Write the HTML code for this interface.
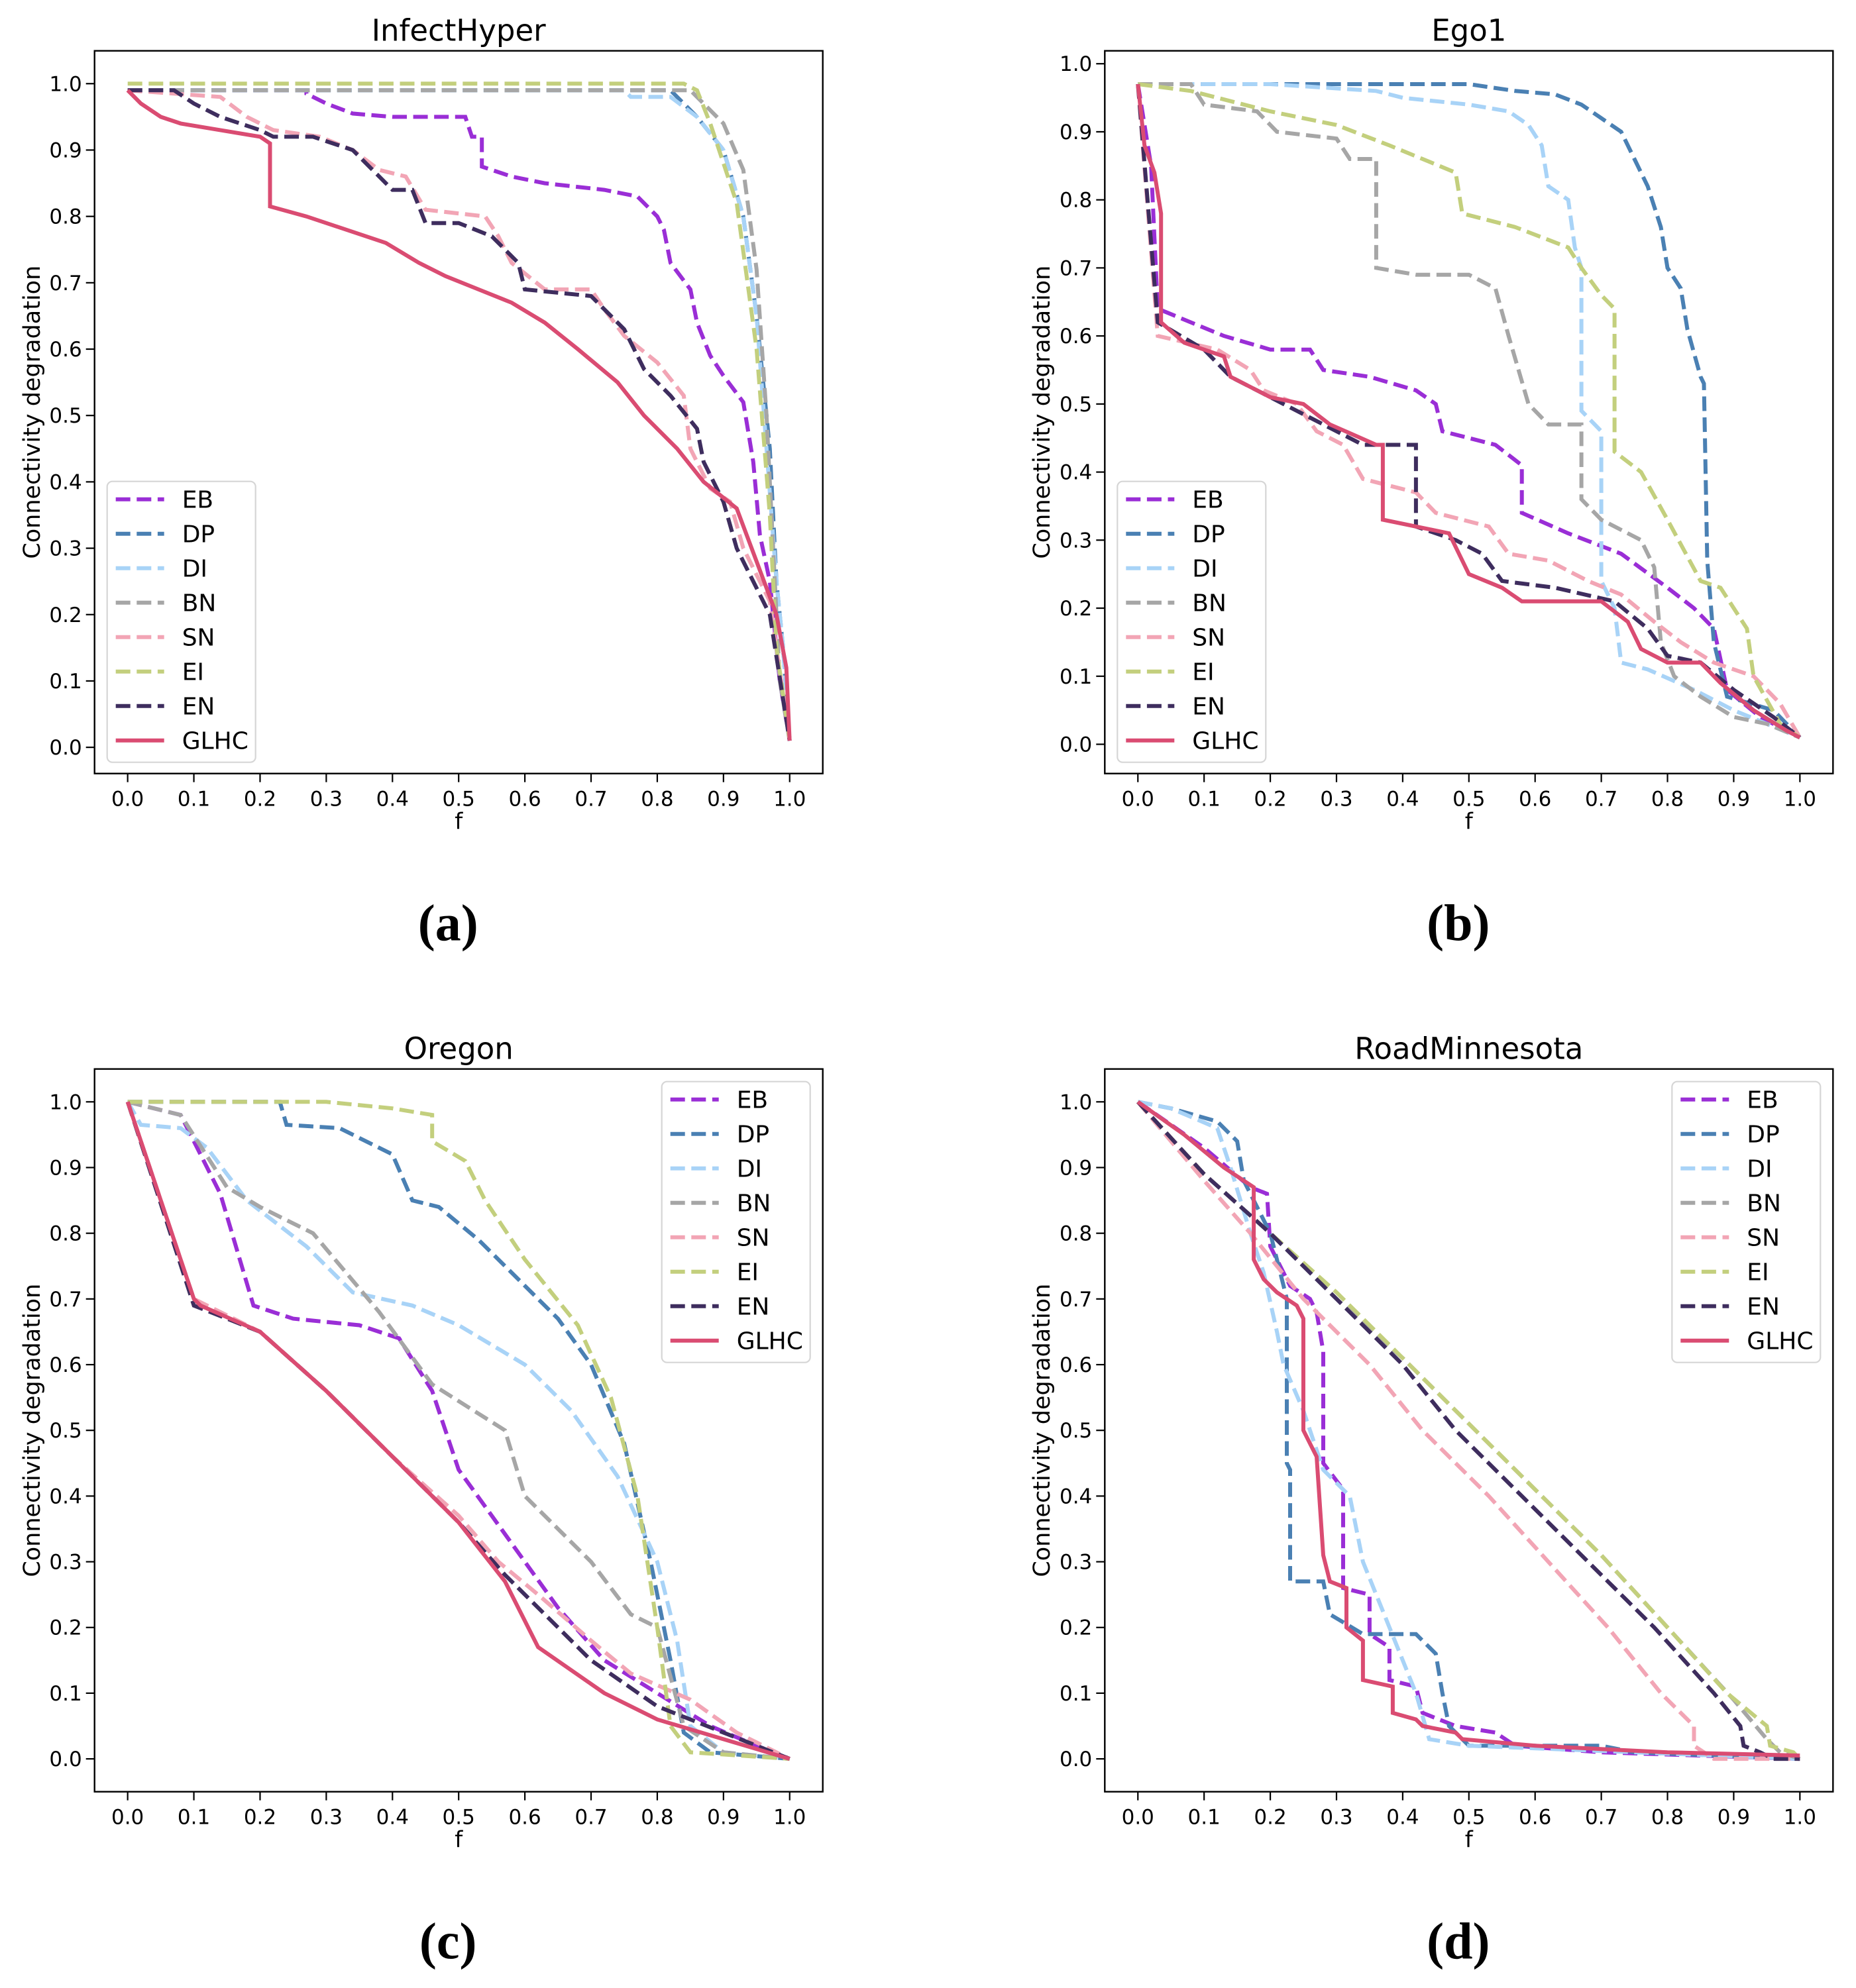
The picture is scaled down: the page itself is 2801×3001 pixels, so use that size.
<!DOCTYPE html>
<html><head><meta charset="utf-8">
<style>
html,body{margin:0;padding:0;background:#fff;}
svg{display:block;}
text{font-family:"DejaVu Sans","Liberation Sans",sans-serif;}
</style></head>
<body>
<svg id="fig" width="2801" height="3001" viewBox="0 0 2801 3001" xmlns="http://www.w3.org/2000/svg"></svg>
<script>
// ---------- data (f, connectivity degradation) ----------
const seriesNames = ["EB","DP","DI","BN","SN","EI","EN","GLHC"];
const xTicks = [0,0.1,0.2,0.3,0.4,0.5,0.6,0.7,0.8,0.9,1.0];
const yTicks = [0,0.1,0.2,0.3,0.4,0.5,0.6,0.7,0.8,0.9,1.0];
const xTickLabels = ["0.0","0.1","0.2","0.3","0.4","0.5","0.6","0.7","0.8","0.9","1.0"];
const yTickLabels = ["0.0","0.1","0.2","0.3","0.4","0.5","0.6","0.7","0.8","0.9","1.0"];

// Panel (a) InfectHyper
const aEB = [[0,0.99],[0.27,0.99],[0.27,0.985],[0.3,0.97],[0.34,0.955],[0.4,0.95],[0.51,0.95],[0.52,0.92],[0.535,0.92],[0.535,0.875],[0.58,0.86],[0.63,0.85],[0.72,0.84],[0.77,0.83],[0.8,0.8],[0.81,0.78],[0.82,0.73],[0.85,0.69],[0.86,0.64],[0.88,0.59],[0.9,0.56],[0.93,0.52],[0.945,0.43],[0.955,0.32],[0.97,0.25],[0.985,0.1],[1.0,0.01]];
const aDP = [[0,0.99],[0.82,0.99],[0.86,0.95],[0.9,0.9],[0.93,0.8],[0.95,0.65],[0.97,0.45],[0.98,0.25],[0.99,0.15],[1.0,0.01]];
const aDI = [[0,0.99],[0.75,0.99],[0.76,0.98],[0.82,0.98],[0.86,0.95],[0.9,0.9],[0.93,0.8],[0.95,0.65],[0.965,0.45],[0.98,0.25],[0.99,0.15],[1.0,0.01]];
const aBN = [[0,0.99],[0.85,0.99],[0.9,0.94],[0.93,0.87],[0.95,0.72],[0.965,0.5],[0.975,0.3],[0.985,0.1],[1.0,0.01]];
const aSN = [[0,0.99],[0.14,0.98],[0.18,0.95],[0.22,0.93],[0.29,0.92],[0.34,0.9],[0.38,0.87],[0.42,0.86],[0.45,0.81],[0.54,0.8],[0.56,0.77],[0.58,0.73],[0.63,0.69],[0.7,0.69],[0.72,0.66],[0.75,0.62],[0.8,0.58],[0.84,0.53],[0.85,0.45],[0.88,0.39],[0.91,0.37],[0.93,0.3],[0.97,0.22],[1.0,0.01]];
const aEI = [[0,1.0],[0.84,1.0],[0.86,0.99],[0.88,0.94],[0.92,0.82],[0.95,0.6],[0.97,0.35],[0.98,0.15],[1.0,0.01]];
const aEN = [[0,0.99],[0.07,0.99],[0.1,0.97],[0.14,0.95],[0.2,0.93],[0.22,0.92],[0.28,0.92],[0.34,0.9],[0.38,0.86],[0.4,0.84],[0.43,0.84],[0.45,0.79],[0.5,0.79],[0.55,0.77],[0.59,0.73],[0.6,0.69],[0.7,0.68],[0.75,0.63],[0.78,0.57],[0.82,0.53],[0.86,0.48],[0.87,0.43],[0.9,0.37],[0.92,0.3],[0.95,0.24],[0.97,0.2],[1.0,0.01]];
const aGLHC = [[0,0.99],[0.02,0.97],[0.05,0.95],[0.08,0.94],[0.14,0.93],[0.2,0.92],[0.215,0.91],[0.215,0.815],[0.27,0.8],[0.33,0.78],[0.39,0.76],[0.44,0.73],[0.48,0.71],[0.53,0.69],[0.58,0.67],[0.63,0.64],[0.68,0.6],[0.74,0.55],[0.78,0.5],[0.83,0.45],[0.87,0.4],[0.92,0.36],[0.95,0.28],[0.98,0.2],[0.995,0.12],[1.0,0.01]];

// Panel (b) Ego1
const bEB = [[0,0.97],[0.02,0.85],[0.03,0.64],[0.08,0.62],[0.13,0.6],[0.2,0.58],[0.26,0.58],[0.28,0.55],[0.35,0.54],[0.42,0.52],[0.45,0.5],[0.46,0.46],[0.54,0.44],[0.58,0.41],[0.58,0.34],[0.65,0.31],[0.73,0.28],[0.8,0.23],[0.84,0.2],[0.87,0.17],[0.89,0.08],[0.94,0.04],[1.0,0.01]];
const bDP = [[0,0.97],[0.5,0.97],[0.57,0.96],[0.63,0.955],[0.67,0.94],[0.7,0.92],[0.73,0.9],[0.75,0.86],[0.77,0.82],[0.79,0.76],[0.8,0.7],[0.82,0.67],[0.83,0.61],[0.85,0.54],[0.855,0.53],[0.86,0.27],[0.87,0.15],[0.89,0.07],[0.96,0.05],[1.0,0.01]];
const bDI = [[0,0.97],[0.2,0.97],[0.36,0.96],[0.4,0.95],[0.5,0.94],[0.56,0.93],[0.59,0.91],[0.61,0.88],[0.62,0.82],[0.65,0.8],[0.66,0.73],[0.67,0.7],[0.67,0.49],[0.7,0.46],[0.7,0.24],[0.72,0.2],[0.73,0.12],[0.77,0.11],[0.84,0.08],[0.9,0.05],[0.95,0.03],[1.0,0.01]];
const bBN = [[0,0.97],[0.08,0.97],[0.1,0.94],[0.18,0.93],[0.21,0.9],[0.3,0.89],[0.32,0.86],[0.36,0.86],[0.36,0.7],[0.42,0.69],[0.5,0.69],[0.54,0.67],[0.56,0.6],[0.59,0.5],[0.62,0.47],[0.67,0.47],[0.67,0.36],[0.7,0.33],[0.76,0.3],[0.78,0.26],[0.79,0.15],[0.81,0.1],[0.85,0.07],[0.9,0.04],[0.95,0.03],[1.0,0.01]];
const bSN = [[0,0.97],[0.03,0.6],[0.12,0.58],[0.17,0.55],[0.19,0.52],[0.24,0.5],[0.27,0.46],[0.31,0.44],[0.34,0.39],[0.42,0.37],[0.45,0.34],[0.53,0.32],[0.56,0.28],[0.62,0.27],[0.68,0.24],[0.73,0.22],[0.78,0.18],[0.82,0.15],[0.87,0.12],[0.93,0.1],[0.97,0.06],[1.0,0.01]];
const bEI = [[0,0.97],[0.08,0.96],[0.2,0.93],[0.3,0.91],[0.38,0.88],[0.43,0.86],[0.48,0.84],[0.49,0.78],[0.57,0.76],[0.65,0.73],[0.67,0.7],[0.7,0.66],[0.72,0.64],[0.72,0.43],[0.76,0.4],[0.8,0.33],[0.85,0.24],[0.88,0.23],[0.92,0.17],[0.93,0.1],[0.97,0.03],[1.0,0.01]];
const bEN = [[0,0.97],[0.03,0.62],[0.1,0.58],[0.14,0.54],[0.22,0.5],[0.28,0.47],[0.34,0.44],[0.42,0.44],[0.42,0.32],[0.48,0.3],[0.52,0.28],[0.55,0.24],[0.63,0.23],[0.72,0.21],[0.77,0.17],[0.8,0.13],[0.85,0.12],[0.9,0.08],[0.96,0.04],[1.0,0.01]];
const bGLHC = [[0,0.97],[0.01,0.88],[0.025,0.84],[0.035,0.78],[0.035,0.62],[0.07,0.59],[0.13,0.57],[0.14,0.54],[0.2,0.51],[0.25,0.5],[0.29,0.47],[0.36,0.44],[0.37,0.44],[0.37,0.33],[0.47,0.31],[0.5,0.25],[0.55,0.23],[0.58,0.21],[0.7,0.21],[0.74,0.18],[0.76,0.14],[0.8,0.12],[0.85,0.12],[0.88,0.09],[0.93,0.05],[0.98,0.02],[1.0,0.01]];

// Panel (c) Oregon
const cEB = [[0,1.0],[0.08,0.98],[0.14,0.86],[0.19,0.69],[0.25,0.67],[0.35,0.66],[0.41,0.64],[0.46,0.56],[0.5,0.44],[0.55,0.37],[0.6,0.3],[0.65,0.23],[0.72,0.15],[0.8,0.1],[0.88,0.05],[0.95,0.02],[1.0,0.0]];
const cDP = [[0,1.0],[0.23,1.0],[0.24,0.965],[0.32,0.96],[0.4,0.92],[0.43,0.85],[0.47,0.84],[0.53,0.79],[0.6,0.72],[0.65,0.67],[0.7,0.6],[0.75,0.48],[0.79,0.3],[0.82,0.15],[0.84,0.04],[0.88,0.01],[1.0,0.0]];
const cDI = [[0,1.0],[0.02,0.965],[0.08,0.96],[0.12,0.93],[0.18,0.85],[0.27,0.78],[0.34,0.71],[0.43,0.69],[0.5,0.66],[0.6,0.6],[0.67,0.53],[0.74,0.43],[0.8,0.3],[0.83,0.18],[0.85,0.05],[0.9,0.01],[1.0,0.0]];
const cBN = [[0,1.0],[0.08,0.98],[0.15,0.87],[0.2,0.84],[0.28,0.8],[0.38,0.68],[0.46,0.57],[0.57,0.5],[0.6,0.4],[0.65,0.35],[0.7,0.3],[0.76,0.22],[0.8,0.2],[0.84,0.05],[0.9,0.01],[1.0,0.0]];
const cSN = [[0,1.0],[0.1,0.7],[0.2,0.65],[0.3,0.56],[0.4,0.46],[0.5,0.37],[0.56,0.3],[0.62,0.25],[0.7,0.18],[0.76,0.13],[0.85,0.09],[0.92,0.04],[1.0,0.0]];
const cEI = [[0,1.0],[0.3,1.0],[0.4,0.99],[0.46,0.98],[0.46,0.94],[0.51,0.91],[0.54,0.85],[0.6,0.76],[0.68,0.66],[0.73,0.55],[0.77,0.4],[0.8,0.2],[0.82,0.05],[0.85,0.01],[1.0,0.0]];
const cEN = [[0,1.0],[0.1,0.69],[0.2,0.65],[0.3,0.56],[0.4,0.46],[0.5,0.36],[0.57,0.28],[0.63,0.22],[0.7,0.15],[0.8,0.08],[0.9,0.04],[1.0,0.0]];
const cGLHC = [[0,1.0],[0.1,0.7],[0.11,0.69],[0.2,0.65],[0.3,0.56],[0.4,0.46],[0.5,0.36],[0.57,0.27],[0.62,0.17],[0.72,0.1],[0.8,0.06],[0.9,0.03],[1.0,0.0]];

// Panel (d) RoadMinnesota
const dEB = [[0,1.0],[0.1,0.93],[0.17,0.87],[0.195,0.86],[0.2,0.78],[0.23,0.72],[0.26,0.7],[0.27,0.68],[0.28,0.62],[0.28,0.45],[0.31,0.41],[0.31,0.26],[0.35,0.25],[0.35,0.19],[0.38,0.17],[0.38,0.12],[0.42,0.11],[0.43,0.07],[0.48,0.05],[0.54,0.04],[0.57,0.02],[0.7,0.01],[1.0,0.0]];
const dDP = [[0,1.0],[0.05,0.99],[0.12,0.97],[0.15,0.94],[0.16,0.88],[0.2,0.8],[0.22,0.72],[0.225,0.7],[0.225,0.45],[0.23,0.44],[0.23,0.27],[0.28,0.27],[0.29,0.22],[0.34,0.19],[0.42,0.19],[0.45,0.16],[0.46,0.1],[0.47,0.05],[0.5,0.02],[0.7,0.02],[0.75,0.01],[1.0,0.0]];
const dDI = [[0,1.0],[0.05,0.99],[0.12,0.96],[0.14,0.9],[0.17,0.8],[0.19,0.74],[0.21,0.65],[0.22,0.6],[0.25,0.53],[0.28,0.44],[0.32,0.4],[0.34,0.3],[0.38,0.2],[0.4,0.15],[0.42,0.1],[0.44,0.03],[0.5,0.02],[1.0,0.0]];
const dBN = [[0,1.0],[0.1,0.89],[0.2,0.8],[0.3,0.7],[0.4,0.61],[0.5,0.51],[0.6,0.41],[0.7,0.31],[0.8,0.2],[0.9,0.09],[0.95,0.03],[0.97,0.01],[1.0,0.0]];
const dSN = [[0,1.0],[0.1,0.88],[0.17,0.8],[0.25,0.7],[0.35,0.6],[0.43,0.5],[0.53,0.4],[0.62,0.3],[0.71,0.2],[0.79,0.1],[0.84,0.05],[0.84,0.02],[0.87,0.0],[1.0,0.0]];
const dEI = [[0,1.0],[0.1,0.89],[0.2,0.8],[0.3,0.71],[0.4,0.61],[0.5,0.51],[0.6,0.41],[0.7,0.31],[0.8,0.2],[0.89,0.1],[0.95,0.05],[0.955,0.02],[0.99,0.01],[1.0,0.0]];
const dEN = [[0,1.0],[0.1,0.89],[0.2,0.8],[0.3,0.7],[0.4,0.6],[0.48,0.5],[0.58,0.4],[0.68,0.3],[0.78,0.2],[0.87,0.1],[0.91,0.05],[0.915,0.02],[0.94,0.01],[0.96,0.0],[1.0,0.0]];
const dGLHC = [[0,1.0],[0.07,0.95],[0.13,0.9],[0.175,0.87],[0.175,0.76],[0.19,0.73],[0.21,0.71],[0.24,0.69],[0.25,0.67],[0.25,0.5],[0.27,0.46],[0.28,0.31],[0.29,0.27],[0.315,0.26],[0.315,0.2],[0.34,0.18],[0.34,0.12],[0.385,0.11],[0.385,0.07],[0.42,0.06],[0.43,0.05],[0.48,0.04],[0.49,0.03],[0.6,0.02],[0.8,0.01],[1.0,0.005]];

// ---------- rendering ----------
const NS = "http://www.w3.org/2000/svg";
const fig = document.getElementById("fig");
const colors = {EB:"#9a2ed6",DP:"#4a80b3",DI:"#a8d3f7",BN:"#a6a6a6",SN:"#f2a5b5",EI:"#c3cf7d",EN:"#3e2d5e",GLHC:"#da4c72"};
const W = 1099, H = 1091;
const panels = [
  {id:"a", title:"InfectHyper", left:142.7, top:76.7, ylim:[-0.0395,1.0495], legend:"ll", data:[aEB,aDP,aDI,aBN,aSN,aEI,aEN,aGLHC], ylx:48},
  {id:"b", title:"Ego1", left:1667.3, top:76.7, ylim:[-0.043,1.019], legend:"ll", data:[bEB,bDP,bDI,bBN,bSN,bEI,bEN,bGLHC], ylx:1572},
  {id:"c", title:"Oregon", left:142.7, top:1613.7, ylim:[-0.05,1.05], legend:"ur", data:[cEB,cDP,cDI,cBN,cSN,cEI,cEN,cGLHC], ylx:48},
  {id:"d", title:"RoadMinnesota", left:1667.3, top:1613.7, ylim:[-0.05,1.05], legend:"ur", data:[dEB,dDP,dDI,dBN,dSN,dEI,dEN,dGLHC], ylx:1572}
];
function mk(tag, attrs, parent){
  const e = document.createElementNS(NS, tag);
  for (const k in attrs) e.setAttribute(k, attrs[k]);
  (parent||fig).appendChild(e);
  return e;
}
panels.forEach(p => {
  const g = mk("g", {});
  
  
  const xs = v => p.left + (v + 0.05) / 1.1 * W;
  const ys = v => p.top + H - (v - p.ylim[0]) / (p.ylim[1] - p.ylim[0]) * H;
  const bottom = p.top + H, right = p.left + W, cx = p.left + W/2;
  const t = mk("text", {x:cx, y:p.top-15, "font-size":45, "text-anchor":"middle"}, g);
  t.textContent = p.title;
  
  
  xTicks.forEach((v,i) => {
    const x = xs(v);
    mk("line", {x1:x, y1:bottom, x2:x, y2:bottom+13, stroke:"#000", "stroke-width":2.2}, g);
    const tl = mk("text", {x:x, y:bottom+49, "font-size":31, "text-anchor":"middle"}, g);
    tl.textContent = xTickLabels[i];
    
    
  });
  yTicks.forEach((v,i) => {
    const y = ys(v);
    mk("line", {x1:p.left-13, y1:y, x2:p.left, y2:y, stroke:"#000", "stroke-width":2.2}, g);
    const tl = mk("text", {x:p.left-19, y:y+11, "font-size":31, "text-anchor":"end"}, g);
    tl.textContent = yTickLabels[i];
    
    
  });
  const xl = mk("text", {x:cx, y:bottom+84, "font-size":34, "text-anchor":"middle"}, g);
  xl.textContent = "f";
  
  
  const yl = mk("text", {x:0, y:0, "font-size":35, "text-anchor":"middle", transform:`translate(${p.ylx+12},${p.top+H/2}) rotate(-90)`}, g);
  yl.textContent = "Connectivity degradation";
  
  
  const cp = mk("clipPath", {id:"clip"+p.id}, g);
  mk("rect", {x:p.left, y:p.top, width:W, height:H}, cp);
  p.data.forEach((pts, si) => {
    const name = seriesNames[si];
    const d = pts.map((q,k) => (k?"L":"M") + xs(q[0]).toFixed(1) + "," + ys(q[1]).toFixed(1)).join("");
    const path = mk("path", {d:d, fill:"none", stroke:colors[name], "stroke-width":6, "stroke-linejoin":"miter", "clip-path":`url(#clip${p.id})`}, g);
    if (name !== "GLHC") path.setAttribute("stroke-dasharray", "22 9.6");
    
    
  });
  const box = mk("rect", {x:p.left, y:p.top, width:W, height:H, fill:"none", stroke:"#000", "stroke-width":2.4}, g);
  
  
  const lw = 224, lh = 424;
  const lx = p.legend === "ll" ? p.left + 19 : right - 19 - lw;
  const ly = p.legend === "ll" ? bottom - 17 - lh : p.top + 19;
  const lg = mk("g", {}, g);
  
  
  mk("rect", {x:lx, y:ly, width:lw, height:lh, rx:8, fill:"#fff", "fill-opacity":0.85, stroke:"#d6d6d6", "stroke-width":2.2}, lg);
  seriesNames.forEach((name, i) => {
    const ry = ly + 27 + i * 52;
    const ent = mk("g", {}, lg);
    
    
    const ln = mk("line", {x1:lx+13, y1:ry, x2:lx+86, y2:ry, stroke:colors[name], "stroke-width":6}, ent);
    if (name !== "GLHC") ln.setAttribute("stroke-dasharray", "22 9.6");
    const tx = mk("text", {x:lx+113, y:ry+13, "font-size":36}, ent);
    tx.textContent = name;
  });
  const sl = mk("text", {x:cx-16, y:p.top+1343, "font-size":78, "font-weight":"bold", "text-anchor":"middle", style:'font-family:"Liberation Serif",serif'}, g);
  sl.textContent = "(" + p.id + ")";
  
  
});
</script>
</body></html>
